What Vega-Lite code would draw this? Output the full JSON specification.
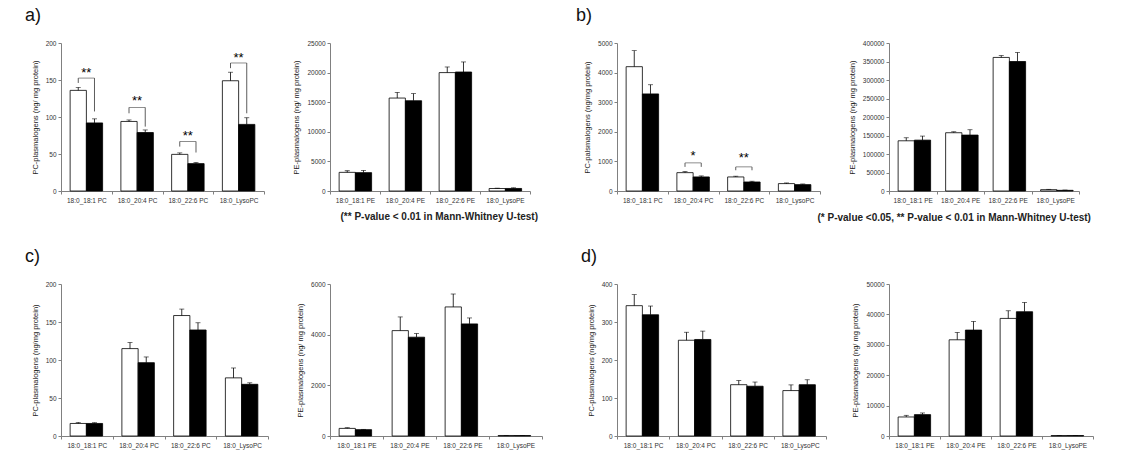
{
"$schema":"https://vega.github.io/schema/vega-lite/v6.json",
"background":"white",
"padding":{"left":25,"top":7,"right":5,"bottom":5},
"datasets":{
"bars":[
{"panel":"aPC","lipid":"18:0_18:1 PC","group":"Group 1","mean":136,"hi":140},
{"panel":"aPC","lipid":"18:0_18:1 PC","group":"Group 2","mean":92,"hi":97.5},
{"panel":"aPC","lipid":"18:0_20:4 PC","group":"Group 1","mean":94,"hi":96},
{"panel":"aPC","lipid":"18:0_20:4 PC","group":"Group 2","mean":79,"hi":82.5},
{"panel":"aPC","lipid":"18:0_22:6 PC","group":"Group 1","mean":49.5,"hi":51.5},
{"panel":"aPC","lipid":"18:0_22:6 PC","group":"Group 2","mean":37,"hi":38.5},
{"panel":"aPC","lipid":"18:0_LysoPC","group":"Group 1","mean":149,"hi":160.5},
{"panel":"aPC","lipid":"18:0_LysoPC","group":"Group 2","mean":90,"hi":99},
{"panel":"aPE","lipid":"18:0_18:1 PE","group":"Group 1","mean":3150,"hi":3420},
{"panel":"aPE","lipid":"18:0_18:1 PE","group":"Group 2","mean":3100,"hi":3480},
{"panel":"aPE","lipid":"18:0_20:4 PE","group":"Group 1","mean":15700,"hi":16650},
{"panel":"aPE","lipid":"18:0_20:4 PE","group":"Group 2","mean":15250,"hi":16450},
{"panel":"aPE","lipid":"18:0_22:6 PE","group":"Group 1","mean":20000,"hi":20950},
{"panel":"aPE","lipid":"18:0_22:6 PE","group":"Group 2","mean":20100,"hi":21800},
{"panel":"aPE","lipid":"18:0_LysoPE","group":"Group 1","mean":420,"hi":480},
{"panel":"aPE","lipid":"18:0_LysoPE","group":"Group 2","mean":430,"hi":540},
{"panel":"bPC","lipid":"18:0_18:1 PC","group":"Group 1","mean":4200,"hi":4740},
{"panel":"bPC","lipid":"18:0_18:1 PC","group":"Group 2","mean":3280,"hi":3590},
{"panel":"bPC","lipid":"18:0_20:4 PC","group":"Group 1","mean":620,"hi":656},
{"panel":"bPC","lipid":"18:0_20:4 PC","group":"Group 2","mean":475,"hi":510},
{"panel":"bPC","lipid":"18:0_22:6 PC","group":"Group 1","mean":475,"hi":500},
{"panel":"bPC","lipid":"18:0_22:6 PC","group":"Group 2","mean":305,"hi":330},
{"panel":"bPC","lipid":"18:0_LysoPC","group":"Group 1","mean":250,"hi":272},
{"panel":"bPC","lipid":"18:0_LysoPC","group":"Group 2","mean":215,"hi":238},
{"panel":"bPE","lipid":"18:0_18:1 PE","group":"Group 1","mean":135700,"hi":143900},
{"panel":"bPE","lipid":"18:0_18:1 PE","group":"Group 2","mean":137500,"hi":148400},
{"panel":"bPE","lipid":"18:0_20:4 PE","group":"Group 1","mean":157500,"hi":160200},
{"panel":"bPE","lipid":"18:0_20:4 PE","group":"Group 2","mean":151100,"hi":165600},
{"panel":"bPE","lipid":"18:0_22:6 PE","group":"Group 1","mean":361000,"hi":366000},
{"panel":"bPE","lipid":"18:0_22:6 PE","group":"Group 2","mean":350000,"hi":374500},
{"panel":"bPE","lipid":"18:0_LysoPE","group":"Group 1","mean":3600,"hi":4500},
{"panel":"bPE","lipid":"18:0_LysoPE","group":"Group 2","mean":1800,"hi":2600},
{"panel":"cPC","lipid":"18:0_18:1 PC","group":"Group 1","mean":16.5,"hi":18},
{"panel":"cPC","lipid":"18:0_18:1 PC","group":"Group 2","mean":16.5,"hi":17.5},
{"panel":"cPC","lipid":"18:0_20:4 PC","group":"Group 1","mean":115,"hi":123},
{"panel":"cPC","lipid":"18:0_20:4 PC","group":"Group 2","mean":96.5,"hi":104},
{"panel":"cPC","lipid":"18:0_22:6 PC","group":"Group 1","mean":158.5,"hi":167},
{"panel":"cPC","lipid":"18:0_22:6 PC","group":"Group 2","mean":139.5,"hi":149},
{"panel":"cPC","lipid":"18:0_LysoPC","group":"Group 1","mean":76.5,"hi":89.5},
{"panel":"cPC","lipid":"18:0_LysoPC","group":"Group 2","mean":68,"hi":70},
{"panel":"cPE","lipid":"18:0_18:1 PE","group":"Group 1","mean":300,"hi":328},
{"panel":"cPE","lipid":"18:0_18:1 PE","group":"Group 2","mean":250,"hi":262},
{"panel":"cPE","lipid":"18:0_20:4 PE","group":"Group 1","mean":4160,"hi":4700},
{"panel":"cPE","lipid":"18:0_20:4 PE","group":"Group 2","mean":3900,"hi":4045},
{"panel":"cPE","lipid":"18:0_22:6 PE","group":"Group 1","mean":5095,"hi":5605},
{"panel":"cPE","lipid":"18:0_22:6 PE","group":"Group 2","mean":4425,"hi":4660},
{"panel":"cPE","lipid":"18:0_LysoPE","group":"Group 1","mean":20,"hi":24},
{"panel":"cPE","lipid":"18:0_LysoPE","group":"Group 2","mean":18,"hi":22},
{"panel":"dPC","lipid":"18:0_18:1 PC","group":"Group 1","mean":343,"hi":372},
{"panel":"dPC","lipid":"18:0_18:1 PC","group":"Group 2","mean":319,"hi":342},
{"panel":"dPC","lipid":"18:0_20:4 PC","group":"Group 1","mean":252,"hi":273},
{"panel":"dPC","lipid":"18:0_20:4 PC","group":"Group 2","mean":254,"hi":276},
{"panel":"dPC","lipid":"18:0_22:6 PC","group":"Group 1","mean":135,"hi":146},
{"panel":"dPC","lipid":"18:0_22:6 PC","group":"Group 2","mean":131,"hi":142},
{"panel":"dPC","lipid":"18:0_LysoPC","group":"Group 1","mean":119.5,"hi":134.5},
{"panel":"dPC","lipid":"18:0_LysoPC","group":"Group 2","mean":135,"hi":148},
{"panel":"dPE","lipid":"18:0_18:1 PE","group":"Group 1","mean":6260,"hi":6800},
{"panel":"dPE","lipid":"18:0_18:1 PE","group":"Group 2","mean":7030,"hi":7580},
{"panel":"dPE","lipid":"18:0_20:4 PE","group":"Group 1","mean":31650,"hi":34070},
{"panel":"dPE","lipid":"18:0_20:4 PE","group":"Group 2","mean":34840,"hi":37700},
{"panel":"dPE","lipid":"18:0_22:6 PE","group":"Group 1","mean":38680,"hi":41200},
{"panel":"dPE","lipid":"18:0_22:6 PE","group":"Group 2","mean":40880,"hi":43950},
{"panel":"dPE","lipid":"18:0_LysoPE","group":"Group 1","mean":150,"hi":180},
{"panel":"dPE","lipid":"18:0_LysoPE","group":"Group 2","mean":150,"hi":180}
],
"brackets":[
{"panel":"aPC","lipid":"18:0_18:1 PC","group":"Group 1","top":152.6,"bottom":146},
{"panel":"aPC","lipid":"18:0_18:1 PC","group":"Group 2","top":152.6,"bottom":107.5},
{"panel":"aPC","lipid":"18:0_20:4 PC","group":"Group 1","top":113,"bottom":105},
{"panel":"aPC","lipid":"18:0_20:4 PC","group":"Group 2","top":113,"bottom":87},
{"panel":"aPC","lipid":"18:0_22:6 PC","group":"Group 1","top":67,"bottom":60},
{"panel":"aPC","lipid":"18:0_22:6 PC","group":"Group 2","top":67,"bottom":52},
{"panel":"aPC","lipid":"18:0_LysoPC","group":"Group 1","top":173,"bottom":166},
{"panel":"aPC","lipid":"18:0_LysoPC","group":"Group 2","top":173,"bottom":105},
{"panel":"bPC","lipid":"18:0_20:4 PC","group":"Group 1","top":950,"bottom":815},
{"panel":"bPC","lipid":"18:0_20:4 PC","group":"Group 2","top":950,"bottom":815},
{"panel":"bPC","lipid":"18:0_22:6 PC","group":"Group 1","top":815,"bottom":700},
{"panel":"bPC","lipid":"18:0_22:6 PC","group":"Group 2","top":815,"bottom":700}
],
"stars":[
{"panel":"aPC","lipid":"18:0_18:1 PC","label":"**","y":160},
{"panel":"aPC","lipid":"18:0_20:4 PC","label":"**","y":121},
{"panel":"aPC","lipid":"18:0_22:6 PC","label":"**","y":74},
{"panel":"aPC","lipid":"18:0_LysoPC","label":"**","y":180},
{"panel":"bPC","lipid":"18:0_20:4 PC","label":"*","y":1180},
{"panel":"bPC","lipid":"18:0_22:6 PC","label":"**","y":1100}
]
},
"concat":[
{"width":206,"height":148,
 "title":{"text":"a)","anchor":"start","frame":"group","dx":-36,"offset":-3,"baseline":"bottom","fontSize":18,"fontWeight":"normal","color":"#111111"},
 "layer":[
  {"data":{"name":"bars"},"transform":[{"filter":"datum.panel==='aPC'"}],"mark":{"type":"bar","stroke":"black","strokeWidth":0.8},
   "encoding":{
    "x":{"field":"lipid","type":"nominal","scale":{"domain":["18:0_18:1 PC","18:0_20:4 PC","18:0_22:6 PC","18:0_LysoPC"],"range":[0,203],"paddingInner":0,"paddingOuter":0},"axis":{"title":null}},
    "xOffset":{"field":"group","type":"nominal","scale":{"paddingInner":0,"paddingOuter":0.5625}},
    "y":{"field":"mean","type":"quantitative","scale":{"domain":[0,200],"nice":false},"axis":{"title":"PC-plasmalogens (ng/ mg protein)","values":[0,50,100,150,200],"format":"d"}},
    "fill":{"field":"group","type":"nominal","scale":{"domain":["Group 1","Group 2"],"range":["white","black"]},"legend":null}}},
  {"data":{"name":"bars"},"transform":[{"filter":"datum.panel==='aPC'"}],"mark":{"type":"rule","color":"black","strokeWidth":0.8},
   "encoding":{"x":{"field":"lipid","type":"nominal"},"xOffset":{"field":"group","type":"nominal"},"y":{"field":"mean","type":"quantitative","axis":{"title":"PC-plasmalogens (ng/ mg protein)","values":[0,50,100,150,200],"format":"d"}},"y2":{"field":"hi"}}},
  {"data":{"name":"bars"},"transform":[{"filter":"datum.panel==='aPC'"}],"mark":{"type":"tick","orient":"horizontal","size":5,"thickness":0.8,"color":"black"},
   "encoding":{"x":{"field":"lipid","type":"nominal"},"xOffset":{"field":"group","type":"nominal"},"y":{"field":"hi","type":"quantitative","axis":{"title":"PC-plasmalogens (ng/ mg protein)","values":[0,50,100,150,200],"format":"d"}}}},
  {"data":{"name":"brackets"},"transform":[{"filter":"datum.panel==='aPC'"}],"mark":{"type":"rule","color":"#333333","strokeWidth":0.8},
   "encoding":{"x":{"field":"lipid","type":"nominal"},"xOffset":{"field":"group","type":"nominal"},"y":{"field":"top","type":"quantitative","axis":{"title":"PC-plasmalogens (ng/ mg protein)","values":[0,50,100,150,200],"format":"d"}},"y2":{"field":"bottom"}}},
  {"data":{"name":"brackets"},"transform":[{"filter":"datum.panel==='aPC' && datum.group==='Group 1'"}],"mark":{"type":"tick","orient":"horizontal","size":16,"thickness":0.8,"color":"#333333"},
   "encoding":{"x":{"field":"lipid","type":"nominal"},"y":{"field":"top","type":"quantitative","axis":{"title":"PC-plasmalogens (ng/ mg protein)","values":[0,50,100,150,200],"format":"d"}}}},
  {"data":{"name":"stars"},"transform":[{"filter":"datum.panel==='aPC'"}],"mark":{"type":"text","fontSize":13,"baseline":"middle","color":"black"},
   "encoding":{"x":{"field":"lipid","type":"nominal"},"y":{"field":"y","type":"quantitative","axis":{"title":"PC-plasmalogens (ng/ mg protein)","values":[0,50,100,150,200],"format":"d"}},"text":{"field":"label"}}}
 ]},
{"width":227,"height":148,
 "layer":[
  {"data":{"name":"bars"},"transform":[{"filter":"datum.panel==='aPE'"}],"mark":{"type":"bar","stroke":"black","strokeWidth":0.8},
   "encoding":{
    "x":{"field":"lipid","type":"nominal","scale":{"domain":["18:0_18:1 PE","18:0_20:4 PE","18:0_22:6 PE","18:0_LysoPE"],"range":[0,200],"paddingInner":0,"paddingOuter":0},"axis":{"title":"(** P-value < 0.01 in Mann-Whitney U-test)","titleX":10,"titleY":25,"titleAlign":"left","titleBaseline":"middle","titleFontSize":10,"titleFontWeight":"bold","titleColor":"#222222"}},
    "xOffset":{"field":"group","type":"nominal","scale":{"paddingInner":0,"paddingOuter":0.5625}},
    "y":{"field":"mean","type":"quantitative","scale":{"domain":[0,25000],"nice":false},"axis":{"title":"PE-plasmalogens (ng/ mg protein)","values":[0,5000,10000,15000,20000,25000],"format":"d"}},
    "fill":{"field":"group","type":"nominal","scale":{"domain":["Group 1","Group 2"],"range":["white","black"]},"legend":null}}},
  {"data":{"name":"bars"},"transform":[{"filter":"datum.panel==='aPE'"}],"mark":{"type":"rule","color":"black","strokeWidth":0.8},
   "encoding":{"x":{"field":"lipid","type":"nominal"},"xOffset":{"field":"group","type":"nominal"},"y":{"field":"mean","type":"quantitative","axis":{"title":"PE-plasmalogens (ng/ mg protein)","values":[0,5000,10000,15000,20000,25000],"format":"d"}},"y2":{"field":"hi"}}},
  {"data":{"name":"bars"},"transform":[{"filter":"datum.panel==='aPE'"}],"mark":{"type":"tick","orient":"horizontal","size":5,"thickness":0.8,"color":"black"},
   "encoding":{"x":{"field":"lipid","type":"nominal"},"xOffset":{"field":"group","type":"nominal"},"y":{"field":"hi","type":"quantitative","axis":{"title":"PE-plasmalogens (ng/ mg protein)","values":[0,5000,10000,15000,20000,25000],"format":"d"}}}}
 ]},
{"width":211,"height":148,
 "title":{"text":"b)","anchor":"start","frame":"group","dx":-41,"offset":-3,"baseline":"bottom","fontSize":18,"fontWeight":"normal","color":"#111111"},
 "layer":[
  {"data":{"name":"bars"},"transform":[{"filter":"datum.panel==='bPC'"}],"mark":{"type":"bar","stroke":"black","strokeWidth":0.8},
   "encoding":{
    "x":{"field":"lipid","type":"nominal","scale":{"domain":["18:0_18:1 PC","18:0_20:4 PC","18:0_22:6 PC","18:0_LysoPC"],"range":[0,203],"paddingInner":0,"paddingOuter":0},"axis":{"title":null}},
    "xOffset":{"field":"group","type":"nominal","scale":{"paddingInner":0,"paddingOuter":0.5625}},
    "y":{"field":"mean","type":"quantitative","scale":{"domain":[0,5000],"nice":false},"axis":{"title":"PC-palsmalogens (ng/mg protein)","values":[0,1000,2000,3000,4000,5000],"format":"d"}},
    "fill":{"field":"group","type":"nominal","scale":{"domain":["Group 1","Group 2"],"range":["white","black"]},"legend":null}}},
  {"data":{"name":"bars"},"transform":[{"filter":"datum.panel==='bPC'"}],"mark":{"type":"rule","color":"black","strokeWidth":0.8},
   "encoding":{"x":{"field":"lipid","type":"nominal"},"xOffset":{"field":"group","type":"nominal"},"y":{"field":"mean","type":"quantitative","axis":{"title":"PC-palsmalogens (ng/mg protein)","values":[0,1000,2000,3000,4000,5000],"format":"d"}},"y2":{"field":"hi"}}},
  {"data":{"name":"bars"},"transform":[{"filter":"datum.panel==='bPC'"}],"mark":{"type":"tick","orient":"horizontal","size":5,"thickness":0.8,"color":"black"},
   "encoding":{"x":{"field":"lipid","type":"nominal"},"xOffset":{"field":"group","type":"nominal"},"y":{"field":"hi","type":"quantitative","axis":{"title":"PC-palsmalogens (ng/mg protein)","values":[0,1000,2000,3000,4000,5000],"format":"d"}}}},
  {"data":{"name":"brackets"},"transform":[{"filter":"datum.panel==='bPC'"}],"mark":{"type":"rule","color":"#333333","strokeWidth":0.8},
   "encoding":{"x":{"field":"lipid","type":"nominal"},"xOffset":{"field":"group","type":"nominal"},"y":{"field":"top","type":"quantitative","axis":{"title":"PC-palsmalogens (ng/mg protein)","values":[0,1000,2000,3000,4000,5000],"format":"d"}},"y2":{"field":"bottom"}}},
  {"data":{"name":"brackets"},"transform":[{"filter":"datum.panel==='bPC' && datum.group==='Group 1'"}],"mark":{"type":"tick","orient":"horizontal","size":16,"thickness":0.8,"color":"#333333"},
   "encoding":{"x":{"field":"lipid","type":"nominal"},"y":{"field":"top","type":"quantitative","axis":{"title":"PC-palsmalogens (ng/mg protein)","values":[0,1000,2000,3000,4000,5000],"format":"d"}}}},
  {"data":{"name":"stars"},"transform":[{"filter":"datum.panel==='bPC'"}],"mark":{"type":"text","fontSize":13,"baseline":"middle","color":"black"},
   "encoding":{"x":{"field":"lipid","type":"nominal"},"y":{"field":"y","type":"quantitative","axis":{"title":"PC-palsmalogens (ng/mg protein)","values":[0,1000,2000,3000,4000,5000],"format":"d"}},"text":{"field":"label"}}}
 ]},
{"width":190,"height":148,
 "layer":[
  {"data":{"name":"bars"},"transform":[{"filter":"datum.panel==='bPE'"}],"mark":{"type":"bar","stroke":"black","strokeWidth":0.8},
   "encoding":{
    "x":{"field":"lipid","type":"nominal","scale":{"domain":["18:0_18:1 PE","18:0_20:4 PE","18:0_22:6 PE","18:0_LysoPE"],"range":[0,190],"paddingInner":0,"paddingOuter":0},"axis":{"title":"(* P-value <0.05, ** P-value < 0.01 in Mann-Whitney U-test)","titleX":-72,"titleY":26,"titleAlign":"left","titleBaseline":"middle","titleFontSize":10,"titleFontWeight":"bold","titleColor":"#222222"}},
    "xOffset":{"field":"group","type":"nominal","scale":{"paddingInner":0,"paddingOuter":0.5625}},
    "y":{"field":"mean","type":"quantitative","scale":{"domain":[0,400000],"nice":false},"axis":{"title":"PE-plasmalogens (ng/ mg protein)","values":[0,50000,100000,150000,200000,250000,300000,350000,400000],"format":"d"}},
    "fill":{"field":"group","type":"nominal","scale":{"domain":["Group 1","Group 2"],"range":["white","black"]},"legend":null}}},
  {"data":{"name":"bars"},"transform":[{"filter":"datum.panel==='bPE'"}],"mark":{"type":"rule","color":"black","strokeWidth":0.8},
   "encoding":{"x":{"field":"lipid","type":"nominal"},"xOffset":{"field":"group","type":"nominal"},"y":{"field":"mean","type":"quantitative","axis":{"title":"PE-plasmalogens (ng/ mg protein)","values":[0,50000,100000,150000,200000,250000,300000,350000,400000],"format":"d"}},"y2":{"field":"hi"}}},
  {"data":{"name":"bars"},"transform":[{"filter":"datum.panel==='bPE'"}],"mark":{"type":"tick","orient":"horizontal","size":5,"thickness":0.8,"color":"black"},
   "encoding":{"x":{"field":"lipid","type":"nominal"},"xOffset":{"field":"group","type":"nominal"},"y":{"field":"hi","type":"quantitative","axis":{"title":"PE-plasmalogens (ng/ mg protein)","values":[0,50000,100000,150000,200000,250000,300000,350000,400000],"format":"d"}}}}
 ]},
{"width":209,"height":152,
 "title":{"text":"c)","anchor":"start","frame":"group","dx":-36,"offset":-3,"baseline":"bottom","fontSize":18,"fontWeight":"normal","color":"#111111"},
 "layer":[
  {"data":{"name":"bars"},"transform":[{"filter":"datum.panel==='cPC'"}],"mark":{"type":"bar","stroke":"black","strokeWidth":0.8},
   "encoding":{
    "x":{"field":"lipid","type":"nominal","scale":{"domain":["18:0_18:1 PC","18:0_20:4 PC","18:0_22:6 PC","18:0_LysoPC"],"range":[0,207],"paddingInner":0,"paddingOuter":0},"axis":{"title":null}},
    "xOffset":{"field":"group","type":"nominal","scale":{"paddingInner":0,"paddingOuter":0.5625}},
    "y":{"field":"mean","type":"quantitative","scale":{"domain":[0,200],"nice":false},"axis":{"title":"PC-plasmalogens (ng/mg protein)","values":[0,50,100,150,200],"format":"d"}},
    "fill":{"field":"group","type":"nominal","scale":{"domain":["Group 1","Group 2"],"range":["white","black"]},"legend":null}}},
  {"data":{"name":"bars"},"transform":[{"filter":"datum.panel==='cPC'"}],"mark":{"type":"rule","color":"black","strokeWidth":0.8},
   "encoding":{"x":{"field":"lipid","type":"nominal"},"xOffset":{"field":"group","type":"nominal"},"y":{"field":"mean","type":"quantitative","axis":{"title":"PC-plasmalogens (ng/mg protein)","values":[0,50,100,150,200],"format":"d"}},"y2":{"field":"hi"}}},
  {"data":{"name":"bars"},"transform":[{"filter":"datum.panel==='cPC'"}],"mark":{"type":"tick","orient":"horizontal","size":5,"thickness":0.8,"color":"black"},
   "encoding":{"x":{"field":"lipid","type":"nominal"},"xOffset":{"field":"group","type":"nominal"},"y":{"field":"hi","type":"quantitative","axis":{"title":"PC-plasmalogens (ng/mg protein)","values":[0,50,100,150,200],"format":"d"}}}}
 ]},
{"width":222,"height":152,
 "layer":[
  {"data":{"name":"bars"},"transform":[{"filter":"datum.panel==='cPE'"}],"mark":{"type":"bar","stroke":"black","strokeWidth":0.8},
   "encoding":{
    "x":{"field":"lipid","type":"nominal","scale":{"domain":["18:0_18:1 PE","18:0_20:4 PE","18:0_22:6 PE","18:0_LysoPE"],"range":[0,212],"paddingInner":0,"paddingOuter":0},"axis":{"title":null}},
    "xOffset":{"field":"group","type":"nominal","scale":{"paddingInner":0,"paddingOuter":0.5625}},
    "y":{"field":"mean","type":"quantitative","scale":{"domain":[0,6000],"nice":false},"axis":{"title":"PE-plasmalogens (ng/ mg protein)","values":[0,2000,4000,6000],"format":"d"}},
    "fill":{"field":"group","type":"nominal","scale":{"domain":["Group 1","Group 2"],"range":["white","black"]},"legend":null}}},
  {"data":{"name":"bars"},"transform":[{"filter":"datum.panel==='cPE'"}],"mark":{"type":"rule","color":"black","strokeWidth":0.8},
   "encoding":{"x":{"field":"lipid","type":"nominal"},"xOffset":{"field":"group","type":"nominal"},"y":{"field":"mean","type":"quantitative","axis":{"title":"PE-plasmalogens (ng/ mg protein)","values":[0,2000,4000,6000],"format":"d"}},"y2":{"field":"hi"}}},
  {"data":{"name":"bars"},"transform":[{"filter":"datum.panel==='cPE'"}],"mark":{"type":"tick","orient":"horizontal","size":5,"thickness":0.8,"color":"black"},
   "encoding":{"x":{"field":"lipid","type":"nominal"},"xOffset":{"field":"group","type":"nominal"},"y":{"field":"hi","type":"quantitative","axis":{"title":"PE-plasmalogens (ng/ mg protein)","values":[0,2000,4000,6000],"format":"d"}}}}
 ]},
{"width":212,"height":152,
 "title":{"text":"d)","anchor":"start","frame":"group","dx":-36,"offset":-3,"baseline":"bottom","fontSize":18,"fontWeight":"normal","color":"#111111"},
 "layer":[
  {"data":{"name":"bars"},"transform":[{"filter":"datum.panel==='dPC'"}],"mark":{"type":"bar","stroke":"black","strokeWidth":0.8},
   "encoding":{
    "x":{"field":"lipid","type":"nominal","scale":{"domain":["18:0_18:1 PC","18:0_20:4 PC","18:0_22:6 PC","18:0_LysoPC"],"range":[0,209],"paddingInner":0,"paddingOuter":0},"axis":{"title":null}},
    "xOffset":{"field":"group","type":"nominal","scale":{"paddingInner":0,"paddingOuter":0.5625}},
    "y":{"field":"mean","type":"quantitative","scale":{"domain":[0,400],"nice":false},"axis":{"title":"PC-plasmalogens (ng/mg protein)","values":[0,100,200,300,400],"format":"d"}},
    "fill":{"field":"group","type":"nominal","scale":{"domain":["Group 1","Group 2"],"range":["white","black"]},"legend":null}}},
  {"data":{"name":"bars"},"transform":[{"filter":"datum.panel==='dPC'"}],"mark":{"type":"rule","color":"black","strokeWidth":0.8},
   "encoding":{"x":{"field":"lipid","type":"nominal"},"xOffset":{"field":"group","type":"nominal"},"y":{"field":"mean","type":"quantitative","axis":{"title":"PC-plasmalogens (ng/mg protein)","values":[0,100,200,300,400],"format":"d"}},"y2":{"field":"hi"}}},
  {"data":{"name":"bars"},"transform":[{"filter":"datum.panel==='dPC'"}],"mark":{"type":"tick","orient":"horizontal","size":5,"thickness":0.8,"color":"black"},
   "encoding":{"x":{"field":"lipid","type":"nominal"},"xOffset":{"field":"group","type":"nominal"},"y":{"field":"hi","type":"quantitative","axis":{"title":"PC-plasmalogens (ng/mg protein)","values":[0,100,200,300,400],"format":"d"}}}}
 ]},
{"width":204,"height":152,
 "layer":[
  {"data":{"name":"bars"},"transform":[{"filter":"datum.panel==='dPE'"}],"mark":{"type":"bar","stroke":"black","strokeWidth":0.8},
   "encoding":{
    "x":{"field":"lipid","type":"nominal","scale":{"domain":["18:0_18:1 PE","18:0_20:4 PE","18:0_22:6 PE","18:0_LysoPE"],"range":[0,204],"paddingInner":0,"paddingOuter":0},"axis":{"title":null}},
    "xOffset":{"field":"group","type":"nominal","scale":{"paddingInner":0,"paddingOuter":0.5625}},
    "y":{"field":"mean","type":"quantitative","scale":{"domain":[0,50000],"nice":false},"axis":{"title":"PE-plasmalogens (ng/ mg protein)","values":[0,10000,20000,30000,40000,50000],"format":"d"}},
    "fill":{"field":"group","type":"nominal","scale":{"domain":["Group 1","Group 2"],"range":["white","black"]},"legend":null}}},
  {"data":{"name":"bars"},"transform":[{"filter":"datum.panel==='dPE'"}],"mark":{"type":"rule","color":"black","strokeWidth":0.8},
   "encoding":{"x":{"field":"lipid","type":"nominal"},"xOffset":{"field":"group","type":"nominal"},"y":{"field":"mean","type":"quantitative","axis":{"title":"PE-plasmalogens (ng/ mg protein)","values":[0,10000,20000,30000,40000,50000],"format":"d"}},"y2":{"field":"hi"}}},
  {"data":{"name":"bars"},"transform":[{"filter":"datum.panel==='dPE'"}],"mark":{"type":"tick","orient":"horizontal","size":5,"thickness":0.8,"color":"black"},
   "encoding":{"x":{"field":"lipid","type":"nominal"},"xOffset":{"field":"group","type":"nominal"},"y":{"field":"hi","type":"quantitative","axis":{"title":"PE-plasmalogens (ng/ mg protein)","values":[0,10000,20000,30000,40000,50000],"format":"d"}}}}
 ]}
],
"columns":4,
"spacing":{"row":93,"column":60},
"align":"none",
"bounds":"flush",
"config":{
 "view":{"stroke":null},
 "font":"Liberation Sans",
 "title":{"font":"Liberation Sans"},
 "text":{"font":"Liberation Sans"},
 "axis":{"grid":false,"domainColor":"#808080","tickColor":"#808080","tickSize":3,"labelFont":"Liberation Sans","labelFontSize":6.5,"labelColor":"#333333","titleFont":"Liberation Sans","titleFontSize":7.5,"titleFontWeight":"normal","titleColor":"#222222"},
 "axisX":{"labelAngle":0,"tickBand":"extent","labelPadding":3},
 "axisY":{"labelPadding":2,"titlePadding":6,"labelOverlap":false}
}
}
